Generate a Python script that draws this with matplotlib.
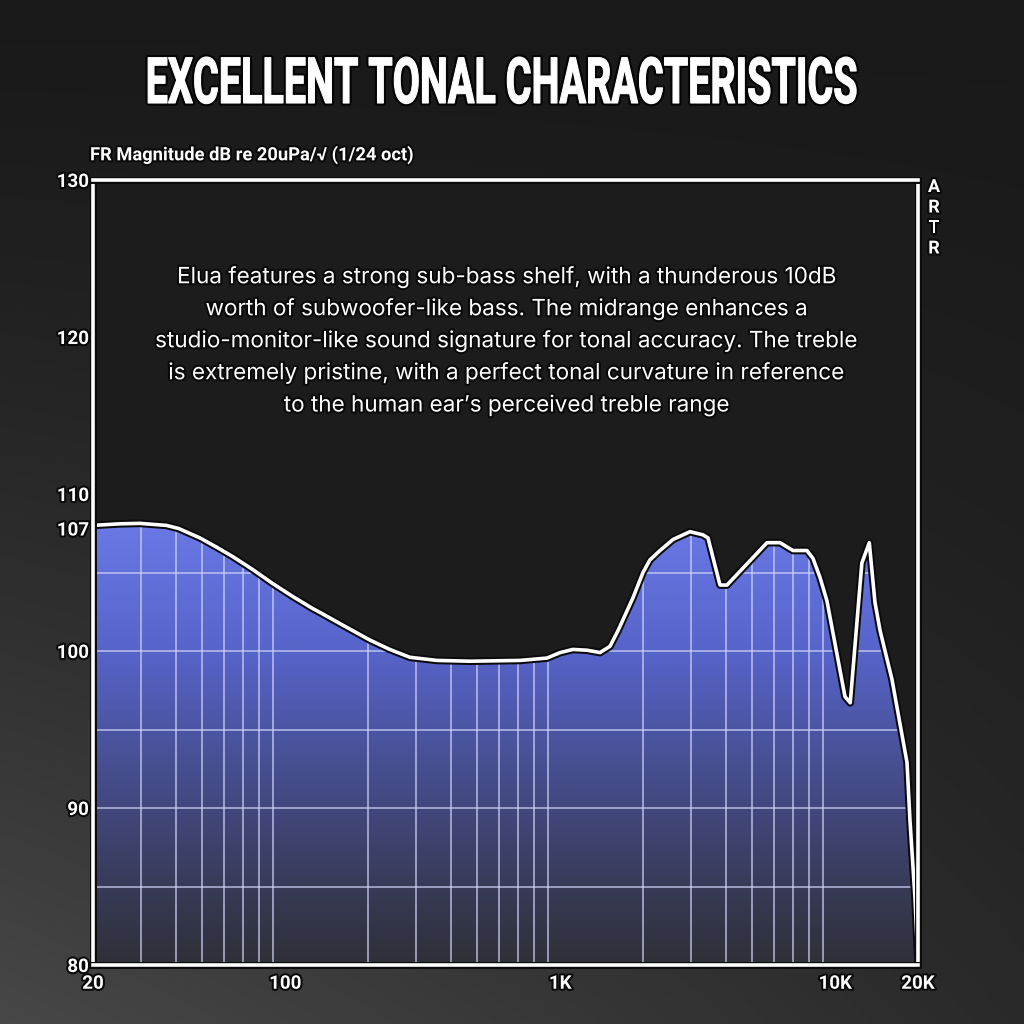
import numpy as np
import matplotlib
matplotlib.use("Agg")
import matplotlib.pyplot as plt
from matplotlib import patheffects as pe
from matplotlib.transforms import Affine2D
from matplotlib.colors import LinearSegmentedColormap
from matplotlib.patches import Polygon

# ---------------- data ----------------
freq_hz = [20, 25, 29.6, 37, 41, 49, 56.5, 64.6, 76, 90, 107, 126, 134, 158,
           203, 240, 284, 356, 470, 714, 895, 1000, 1112, 1251, 1396, 1517,
           1623, 1840, 2000, 2119, 2306, 2570, 2965, 3305, 3447, 3811, 4041,
           5650, 6300, 7020, 7890, 8300, 8800, 9330, 10850, 11340, 12500,
           13300, 13950, 14560, 16080, 18240, 18700, 19500, 20000]
spl_db = [108.0, 108.1, 108.13, 108.0, 107.8, 107.2, 106.6, 106.0, 105.2, 104.3,
          103.45, 102.7, 102.45, 101.75, 100.7, 100.1, 99.6, 99.4, 99.35, 99.4,
          99.55, 99.9, 100.1, 100.05, 99.9, 100.3, 101.3, 103.4, 105.0, 105.8,
          106.4, 107.1, 107.6, 107.4, 107.2, 104.2, 104.2, 106.9, 106.9, 106.4,
          106.4, 105.9, 104.7, 103.2, 97.1, 96.7, 105.6, 106.9, 103.1, 101.3,
          98.2, 92.9, 89.2, 84.3, 80.1]

ytick_vals = [80, 90, 100, 107.8, 110, 120, 130]
ytick_labels = ["80", "90", "100", "107", "110", "120", "130"]
xtick_vals = [20, 100, 1000, 10000, 20000]
xtick_labels = ["20", "100", "1K", "10K", "20K"]
hgrid_db = [85, 90, 95, 100, 105]

title = "EXCELLENT TONAL CHARACTERISTICS"
ylabel = "FR Magnitude dB re 20uPa/\u221a (1/24 oct)"
body_lines = [
    "Elua features a strong sub-bass shelf, with a thunderous 10dB",
    "worth of subwoofer-like bass. The midrange enhances a",
    "studio-monitor-like sound signature for tonal accuracy. The treble",
    "is extremely pristine, with a perfect tonal curvature in reference",
    "to the human ear\u2019s perceived treble range",
]
side_mark = "ARTR"

# ---------------- helpers ----------------
class Squeeze(pe.AbstractPathEffect):
    """Draw the text path scaled to a target pixel width / cap height."""
    def __init__(self, width_px=None, height_px=None, stroke=None, offset=(0, 0)):
        super().__init__(offset)
        self.width_px = width_px
        self.height_px = height_px
        self.stroke = stroke

    def draw_path(self, renderer, gc, tpath, affine, rgbFace):
        ext = tpath.get_extents()
        m = affine.get_matrix()
        sx = sy = 1.0
        if self.width_px:
            sx = self.width_px / (ext.width * abs(m[0, 0]))
        if self.height_px:
            sy = self.height_px / (ext.y1 * abs(m[1, 1]))
        cx = (ext.x0 + ext.x1) / 2
        aff = Affine2D().translate(-cx, 0).scale(sx, sy).translate(cx, 0) + affine
        if isinstance(renderer, pe.PathEffectRenderer):
            renderer = renderer._renderer
        for lw, col in (self.stroke or []):
            gc0 = renderer.new_gc()
            gc0.copy_properties(gc)
            gc0.set_linewidth(lw)
            gc0.set_foreground(col)
            gc0.set_joinstyle("round")
            renderer.draw_path(gc0, tpath, aff, None)
            gc0.restore()
        renderer.draw_path(gc, tpath, aff, rgbFace)


shadow = [pe.withStroke(linewidth=3, foreground="#0a0a0a")]

# ---------------- figure ----------------
fig = plt.figure(figsize=(10.24, 10.24), dpi=100)

# background gradient
bg = fig.add_axes([0, 0, 1, 1], zorder=-10)
yy, xx = np.mgrid[0:1:256j, 0:1:256j]
val = 0.10 + 0.18 * (yy ** 1.4) * (1 - 0.65 * xx)
bg.imshow(np.dstack([val, val, val]), extent=[0, 1, 0, 1], origin="upper",
          aspect="auto", interpolation="bilinear")
bg.set_axis_off()

L, R, B, T = 93 / 1024, 918 / 1024, 1 - 965 / 1024, 1 - 180 / 1024
ax = fig.add_axes([L, B, R - L, T - B])
ax.set_xscale("log")
ax.set_xlim(20, 20000)
ax.set_ylim(80, 130)
ax.set_facecolor("#1c1c1c")

f = np.array(freq_hz, dtype=float)
s = np.array(spl_db, dtype=float)

# fill polygon (in data coordinates)
poly_x = np.concatenate([[f[0]], f, [f[-1]]])
poly_y = np.concatenate([[80], s, [80]])
poly = Polygon(np.column_stack([poly_x, poly_y]), closed=True,
               transform=ax.transData, facecolor="none", edgecolor="none")
ax.add_patch(poly)

# vertical gradient clipped to the curve
stops = [(0.0, "#2f3038"), (0.10, "#383b58"), (0.24, "#464d8c"),
         (0.40, "#5764ca"), (0.56, "#6a78e6"), (1.0, "#7080ee")]
cmap = LinearSegmentedColormap.from_list("fr", stops)
grad = np.linspace(1, 0, 512).reshape(-1, 1)
im = ax.imshow(grad, cmap=cmap, vmin=0, vmax=1, extent=[0, 1, 0, 1],
               transform=ax.transAxes, aspect="auto", origin="upper",
               interpolation="bilinear", zorder=1)
im.set_clip_path(poly)

# grid lines only inside the fill
vgrid = []
for d in (1, 10, 100):
    for v in (20, 30, 40, 50, 60, 70, 80, 90):
        g = v * d
        if 20 < g < 20000:
            vgrid.append(g)
for g in vgrid:
    ln, = ax.plot([g, g], [80, 130], color="#d0d5f8", lw=1.3, alpha=0.7, zorder=2)
    ln.set_clip_path(poly)
for h in hgrid_db:
    ln, = ax.plot([20, 20000], [h, h], color="#d0d5f8", lw=1.3, alpha=0.7, zorder=2)
    ln.set_clip_path(poly)

# curve
ax.plot(f, s, color="white", lw=2.6, zorder=4, solid_joinstyle="round",
        path_effects=[pe.Stroke(linewidth=5.5, foreground="#0b0b0b"), pe.Normal()])

# spines
for sp in ax.spines.values():
    sp.set_color("white")
    sp.set_linewidth(2.6)
    sp.set_zorder(5)
    sp.set_path_effects([pe.Stroke(linewidth=5, foreground="#0b0b0b"), pe.Normal()])

# ticks
ax.set_yticks(ytick_vals)
ax.set_yticklabels(ytick_labels)
ax.set_xticks(xtick_vals)
ax.set_xticklabels(xtick_labels)
ax.xaxis.set_minor_locator(matplotlib.ticker.NullLocator())
ax.tick_params(length=0, colors="white", labelsize=13.5, pad=3)
ax.tick_params(axis="x", pad=7)
for lab in ax.get_xticklabels() + ax.get_yticklabels():
    lab.set_fontfamily(["Roboto", "DejaVu Sans"])
    lab.set_fontweight("bold")
    lab.set_path_effects(shadow)

# title
fig.text(501 / 1024, 1 - 103 / 1024, title, ha="center", va="baseline",
         fontsize=40, fontweight="bold", color="white",
         family=["Roboto", "DejaVu Sans"],
         path_effects=[Squeeze(width_px=708, height_px=46,
                               stroke=[(4, "#050505"), (0.8, "white")])])

# y-axis label
fig.text(90 / 1024, 1 - 155 / 1024, ylabel, ha="left", va="center",
         fontsize=13.2, fontweight="bold", color="white",
         family=["Roboto", "DejaVu Sans"], path_effects=shadow)

# side marker
for i, ch in enumerate(side_mark):
    fig.text(934 / 1024, 1 - (187 + i * 20.5) / 1024, ch, ha="center", va="center",
             fontsize=13, fontweight="bold", color="white",
             family=["Roboto", "DejaVu Sans"], path_effects=shadow)

# body text
for i, line in enumerate(body_lines):
    fig.text(507 / 1024, 1 - (277 + i * 32) / 1024, line, ha="center", va="center",
             fontsize=16.2, color="white", family=["Inter", "DejaVu Sans"],
             path_effects=shadow)

fig.savefig("out.png", dpi=100, facecolor="#1a1a1a")
